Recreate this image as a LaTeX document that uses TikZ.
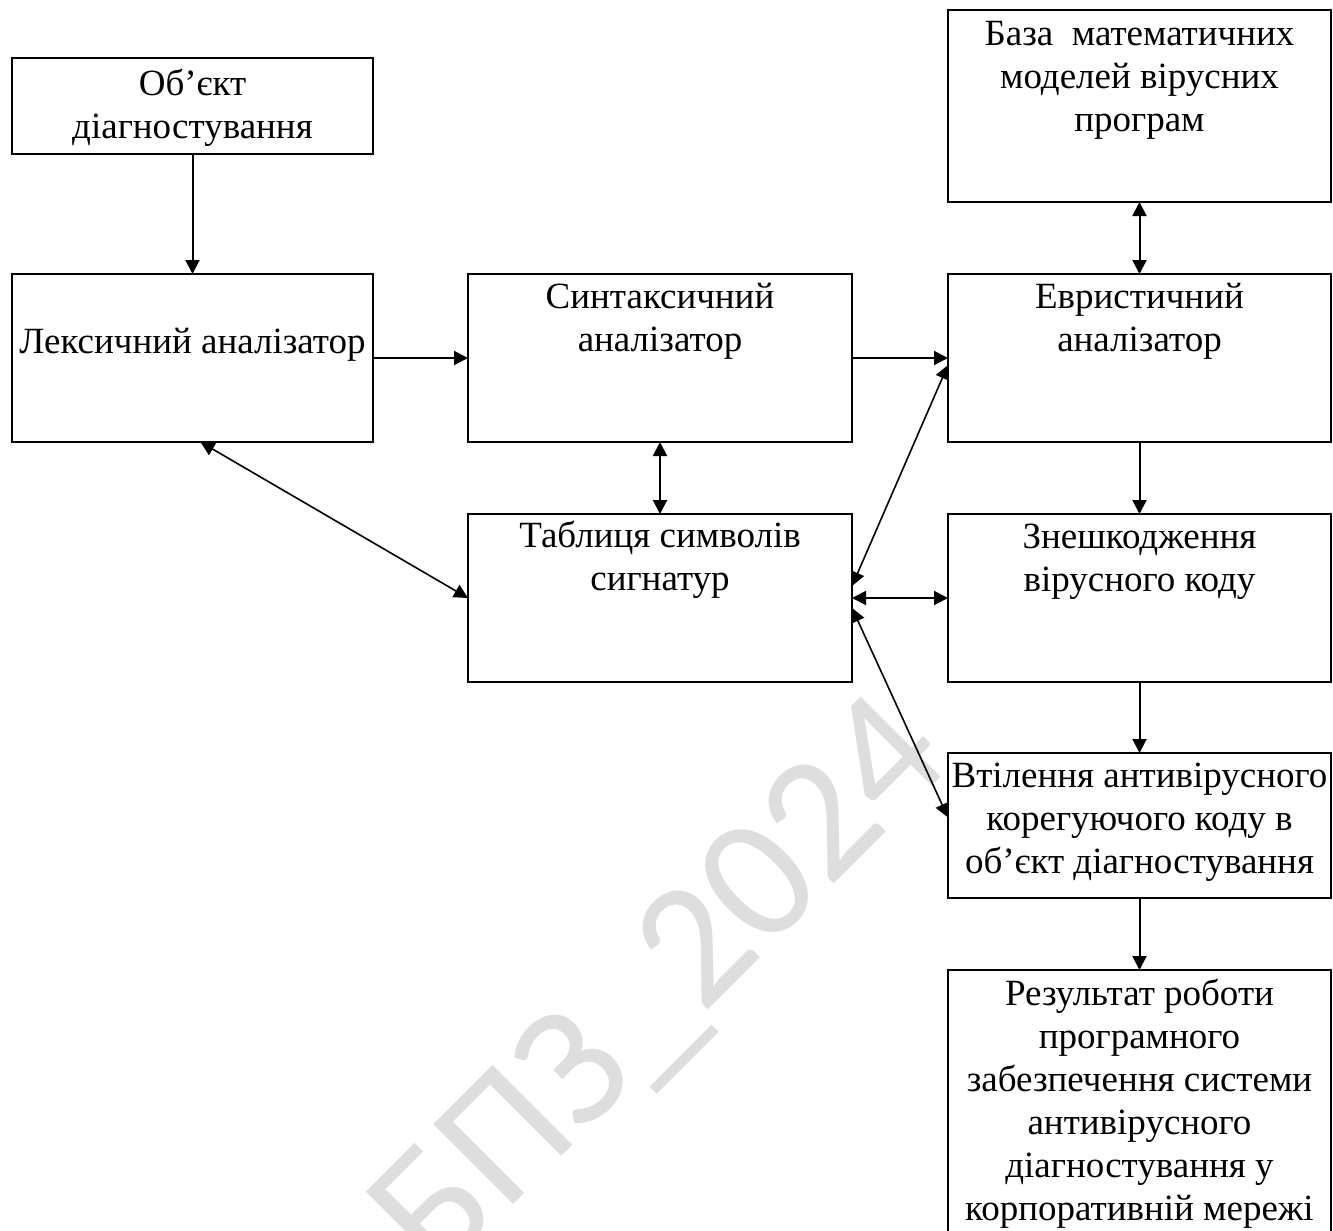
\documentclass[tikz,border=0pt]{standalone}
\usepackage{fontspec}
\setmainfont{Liberation Serif}
\newfontfamily\wmfont{Carlito}
\usetikzlibrary{arrows.meta,calc}
\newcommand{\fl}{\rule{0pt}{14pt}}
\tikzset{
  box/.style 2 args={draw, line width=1pt, rectangle, inner sep=0pt, outer sep=0pt,
    minimum width=#1*0.5pt, minimum height=#2*0.5pt},
  txt/.style={align=center, inner sep=0pt, font=\fontsize{18.5pt}{21.5pt}\selectfont},
  con/.style={line width=1pt, -{Triangle[length=7pt,width=7pt]}},
  dcon/.style={line width=1pt, {Triangle[length=7pt,width=7pt]}-{Triangle[length=7pt,width=7pt]}},
  dgl/.style={line width=0.8pt, {Triangle[length=7pt,width=7pt]}-{Triangle[length=7pt,width=7pt]}},
  wmark/.style={text=black!13, font=\wmfont\fontsize{88pt}{100pt}\selectfont, inner sep=0pt}
}
\begin{document}
\begin{tikzpicture}[x=0.5pt, y=-0.5pt]
\useasboundingbox (0,0) rectangle (1333,1231);
\clip (0,0) rectangle (1333,1231);
\fill[white] (0,0) rectangle (1333,1231);

% watermark
\node[wmark, rotate=45] (wm) at (664,990) {БПЗ\_2024};

% boxes
\node[box={361}{96}]  (ob)   at (192.5,106) {};
\node[box={361}{168}] (lex)  at (192.5,358) {};
\node[box={384}{168}] (syn)  at (660,358) {};
\node[box={383}{168}] (heur) at (1139.5,358) {};
\node[box={383}{192}] (base) at (1139.5,106) {};
\node[box={384}{168}] (tab)  at (660,598) {};
\node[box={383}{168}] (zn)   at (1139.5,598) {};
\node[box={383}{145}] (vt)   at (1139.5,825.5) {};
\node[box={383}{290}] (res)  at (1139.5,1115) {};

% texts
\node[txt, anchor=north] (obT)   at ($(ob.north)+(0,9)$)   {\fl Об’єкт\\діагностування};
\node[txt, anchor=base]  (lexT)  at ($(lex.center)+(0,-5)$) {Лексичний аналізатор};
\node[txt, anchor=north] (synT)  at ($(syn.north)+(0,6)$)  {\fl Синтаксичний\\аналізатор};
\node[txt, anchor=north] (heurT) at ($(heur.north)+(0,6)$) {\fl Евристичний\\аналізатор};
\node[txt, anchor=north] (baseT) at ($(base.north)+(0,7)$) {\fl База\ \ математичних\\моделей вірусних\\програм};
\node[txt, anchor=north] (tabT)  at ($(tab.north)+(0,5)$)  {\fl Таблиця символів\\сигнатур};
\node[txt, anchor=north] (znT)   at ($(zn.north)+(0,6)$)   {\fl Знешкодження\\вірусного коду};
\node[txt, anchor=north] (vtT)   at ($(vt.north)+(0,6)$)   {\fl Втілення антивірусного\\корегуючого коду в\\об’єкт діагностування};
\node[txt, anchor=north] (resT)  at ($(res.north)+(0,7)$)  {\fl Результат роботи\\програмного\\забезпечення системи\\антивірусного\\діагностування у\\корпоративній мережі};

% connectors
\draw[con] (ob.south) -- (lex.north);
\draw[con] (lex.east) -- (syn.west);
\draw[con] (syn.east) -- (heur.west);
\draw[dcon] (base.south) -- (heur.north);
\draw[dcon] (syn.south) -- (tab.north);
\draw[con] (heur.south) -- (zn.north);
\draw[con] (zn.south) -- (vt.north);
\draw[con] (vt.south) -- (res.north);
\draw[dcon] (tab.east) -- (zn.west);
\draw[dgl] ($(lex.south)+(8,0)$) -- (tab.west);
\draw[dgl] ($(tab.east)+(0,-12)$) -- ($(heur.west)+(0,7)$);
\draw[dgl] ($(tab.east)+(0,10)$) -- ($(vt.west)+(0,-8)$);
\end{tikzpicture}
\end{document}
